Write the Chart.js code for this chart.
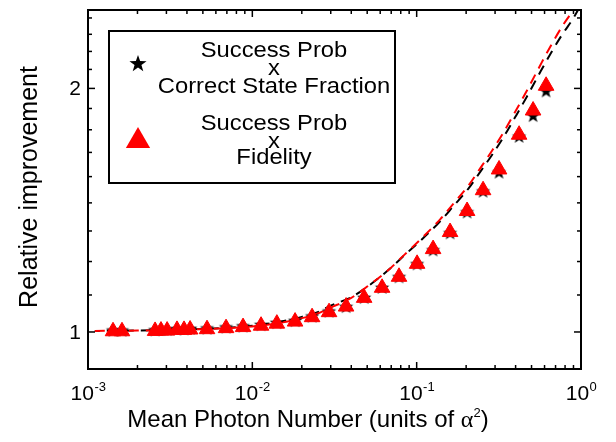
<!doctype html>
<html>
<head>
<meta charset="UTF-8">
<title>Relative improvement</title>
<style>
html,body{margin:0;padding:0;background:#fff;}
</style>
</head>
<body>
<canvas id="chart" width="616" height="442"></canvas>
<script src="https://cdn.jsdelivr.net/npm/chart.js"></script>
<script>
// values
var photon = [0.00142, 0.00161, 0.00256, 0.00278, 0.00303, 0.00348, 0.00384, 0.00418, 0.0053, 0.00692,
  0.00878, 0.0113, 0.0141, 0.0182, 0.0231, 0.0293, 0.0372, 0.0479, 0.0616, 0.0781,
  0.1006, 0.1259, 0.1597, 0.2027, 0.2536, 0.3172, 0.4201, 0.511, 0.6134];
// Success Prob x Correct State Fraction (stars)
var starVals = [1.005, 1.005, 1.006, 1.007, 1.007, 1.009, 1.009, 1.010, 1.011, 1.014,
  1.017, 1.021, 1.027, 1.033, 1.046, 1.061, 1.075, 1.103, 1.135, 1.170,
  1.214, 1.263, 1.326, 1.407, 1.493, 1.576, 1.745, 1.851, 1.986];
// Success Prob x Fidelity (triangles)
var triVals = [1.002, 1.002, 1.003, 1.004, 1.004, 1.006, 1.006, 1.007, 1.008, 1.011,
  1.014, 1.018, 1.024, 1.030, 1.043, 1.058, 1.075, 1.102, 1.134, 1.170,
  1.214, 1.266, 1.329, 1.411, 1.497, 1.588, 1.753, 1.878, 2.015];
// dashed curves
var fitX = [0.0011, 0.002, 0.004, 0.007, 0.01, 0.015, 0.02, 0.025, 0.03, 0.04, 0.05, 0.067, 0.085,
  0.109, 0.139, 0.167, 0.206, 0.243, 0.288, 0.336, 0.397, 0.47, 0.564, 0.658, 0.767, 0.896, 1.0];
var fitRed = [1.003, 1.004, 1.007, 1.011, 1.016, 1.027, 1.040, 1.054, 1.072, 1.102, 1.138, 1.192, 1.248,
  1.310, 1.378, 1.440, 1.516, 1.592, 1.676, 1.762, 1.870, 1.990, 2.135, 2.262, 2.385, 2.50, 2.60];
var fitBlack = [1.003, 1.004, 1.007, 1.012, 1.018, 1.030, 1.044, 1.058, 1.078, 1.104, 1.137, 1.192, 1.246,
  1.305, 1.370, 1.430, 1.503, 1.576, 1.656, 1.738, 1.842, 1.956, 2.094, 2.214, 2.330, 2.44, 2.54];

var xMajor = [0.001, 0.01, 0.1, 1];
var xTickExp = ['-3', '-2', '-1', '0'];
var xMinor = [0.002, 0.003, 0.004, 0.005, 0.006, 0.007, 0.008, 0.009,
  0.02, 0.03, 0.04, 0.05, 0.06, 0.07, 0.08, 0.09,
  0.2, 0.3, 0.4, 0.5, 0.6, 0.7, 0.8, 0.9];
var yMajor = [1, 2];
var yMinor = [1.111, 1.222, 1.333, 1.444, 1.556, 1.667, 1.778, 1.889, 2.111, 2.222, 2.333, 2.444];

var F = '"Liberation Sans", Arial, Helvetica, sans-serif';
var RED = '#ff0000';

function starPath(g, x, y, r) {
  g.beginPath();
  for (var i = 0; i < 10; i++) {
    var a = -Math.PI / 2 + i * Math.PI / 5;
    var rr = (i % 2 == 0) ? r : r * 0.4;
    if (i == 0) g.moveTo(x + rr * Math.cos(a), y + rr * Math.sin(a));
    else g.lineTo(x + rr * Math.cos(a), y + rr * Math.sin(a));
  }
  g.closePath();
}
function makeStar(r) {
  var c = document.createElement('canvas');
  var s = Math.ceil(r * 2 + 2);
  c.width = s; c.height = s;
  var g = c.getContext('2d');
  starPath(g, s / 2, s / 2 + 0.5, r);
  g.fillStyle = '#000';
  g.fill();
  return c;
}
function triPath(g, x, y, r) {
  g.beginPath();
  g.moveTo(x, y - r);
  g.lineTo(x + r * 0.866, y + r * 0.5);
  g.lineTo(x - r * 0.866, y + r * 0.5);
  g.closePath();
}
function line(g, x1, y1, x2, y2) {
  g.beginPath(); g.moveTo(x1, y1); g.lineTo(x2, y2); g.stroke();
}

var decor = {
  id: 'decor',
  afterDraw: function(chart) {
    var g = chart.ctx, ca = chart.chartArea, sx = chart.scales.x, sy = chart.scales.y;
    g.save();
    g.strokeStyle = '#000';
    g.fillStyle = '#000';
    // inward ticks on all sides
    g.lineWidth = 1.5;
    xMajor.forEach(function(v) {
      var p = sx.getPixelForValue(v);
      line(g, p, ca.bottom, p, ca.bottom - 7);
      line(g, p, ca.top, p, ca.top + 7);
    });
    xMinor.forEach(function(v) {
      var p = sx.getPixelForValue(v);
      line(g, p, ca.bottom, p, ca.bottom - 4);
      line(g, p, ca.top, p, ca.top + 4);
    });
    yMajor.forEach(function(v) {
      var p = sy.getPixelForValue(v);
      line(g, ca.left, p, ca.left + 7, p);
      line(g, ca.right, p, ca.right - 7, p);
    });
    yMinor.forEach(function(v) {
      var p = sy.getPixelForValue(v);
      line(g, ca.left, p, ca.left + 4, p);
      line(g, ca.right, p, ca.right - 4, p);
    });
    g.lineWidth = 2;
    g.strokeRect(ca.left, ca.top, ca.right - ca.left, ca.bottom - ca.top);

    // y tick labels
    g.font = '21px ' + F;
    g.textAlign = 'right';
    g.textBaseline = 'middle';
    yMajor.forEach(function(v) {
      g.fillText(String(v), ca.left - 7, sy.getPixelForValue(v) + 1);
    });

    // x tick labels 10^n
    g.textAlign = 'left';
    g.textBaseline = 'alphabetic';
    xMajor.forEach(function(v, i) {
      var p = sx.getPixelForValue(v);
      g.font = '21px ' + F;
      var w1 = g.measureText('10').width;
      g.font = '13px ' + F;
      var w2 = g.measureText(xTickExp[i]).width;
      var x0 = p - (w1 + w2) / 2;
      g.font = '21px ' + F;
      g.fillText('10', x0, 400);
      g.font = '13px ' + F;
      g.fillText(xTickExp[i], x0 + w1 + 0.5, 391);
    });

    // x title
    var parts = [
      ['Mean Photon Number (units of ', '24px ' + F, 427],
      ['\u03b1', '24px "Liberation Serif", "Times New Roman", serif', 427],
      ['2', '13px ' + F, 417],
      [')', '24px ' + F, 427]
    ];
    var tw = 0;
    parts.forEach(function(p) { g.font = p[1]; p.push(g.measureText(p[0]).width); tw += p[3]; });
    var xx = 308 - tw / 2;
    parts.forEach(function(p) { g.font = p[1]; g.fillText(p[0], xx, p[2]); xx += p[3]; });

    // y title
    g.save();
    g.translate(37, 187);
    g.rotate(-Math.PI / 2);
    g.font = '25px ' + F;
    g.textAlign = 'center';
    g.fillText('Relative improvement', 0, 0);
    g.restore();

    // legend box
    g.fillStyle = '#fff';
    g.fillRect(109, 31, 286, 152);
    g.lineWidth = 2;
    g.strokeRect(109, 31, 286, 152);
    g.fillStyle = '#000';
    starPath(g, 138, 64, 9);
    g.fill();
    g.fillStyle = RED;
    triPath(g, 138, 141, 14);
    g.fill();
    g.fillStyle = '#000';
    g.font = '22px ' + F;
    g.textAlign = 'center';
    var rows = [['Success Prob', 57], ['x', 75], ['Correct State Fraction', 93],
      ['Success Prob', 130], ['x', 148], ['Fidelity', 164]];
    rows.forEach(function(r) {
      g.save();
      g.translate(274, r[1]);
      g.scale(1.08, 1);
      g.fillText(r[0], 0, 0);
      g.restore();
    });
    g.restore();
  }
};

var starImg = makeStar(7.5);

var ctx = document.getElementById('chart');
var chart = new Chart(ctx, {
  type: 'line',
  data: {
    datasets: [
      {
        label: 'Success Prob x Fidelity',
        data: photon.map(function(x, i) { return {x: x, y: triVals[i]}; }),
        showLine: false,
        pointStyle: 'triangle',
        pointRadius: 9,
        pointBackgroundColor: RED,
        pointBorderColor: RED,
        pointBorderWidth: 1,
        order: 0
      },
      {
        label: 'Success Prob x Correct State Fraction',
        data: photon.map(function(x, i) { return {x: x, y: starVals[i]}; }),
        showLine: false,
        pointStyle: starImg,
        pointRadius: 8,
        order: 1
      },
      {
        label: 'fit red',
        data: fitX.map(function(x, i) { return {x: x, y: fitRed[i]}; }),
        borderColor: RED,
        borderWidth: 2,
        borderDash: [10, 7],
        pointRadius: 0,
        cubicInterpolationMode: 'monotone',
        fill: false,
        order: 2
      },
      {
        label: 'fit black',
        data: fitX.map(function(x, i) { return {x: x, y: fitBlack[i]}; }),
        borderColor: '#000',
        borderWidth: 2,
        borderDash: [10, 7],
        borderDashOffset: 5,
        pointRadius: 0,
        cubicInterpolationMode: 'monotone',
        fill: false,
        order: 3
      }
    ]
  },
  options: {
    responsive: false,
    animation: false,
    layout: { padding: { left: 88, top: 8.5, right: 35, bottom: 73 } },
    plugins: { legend: { display: false }, tooltip: { enabled: false } },
    scales: {
      x: { type: 'logarithmic', min: 0.001, max: 1, display: false },
      y: { type: 'logarithmic', min: 0.9, max: 2.5, display: false }
    }
  },
  plugins: [decor]
});
</script>
</body>
</html>
